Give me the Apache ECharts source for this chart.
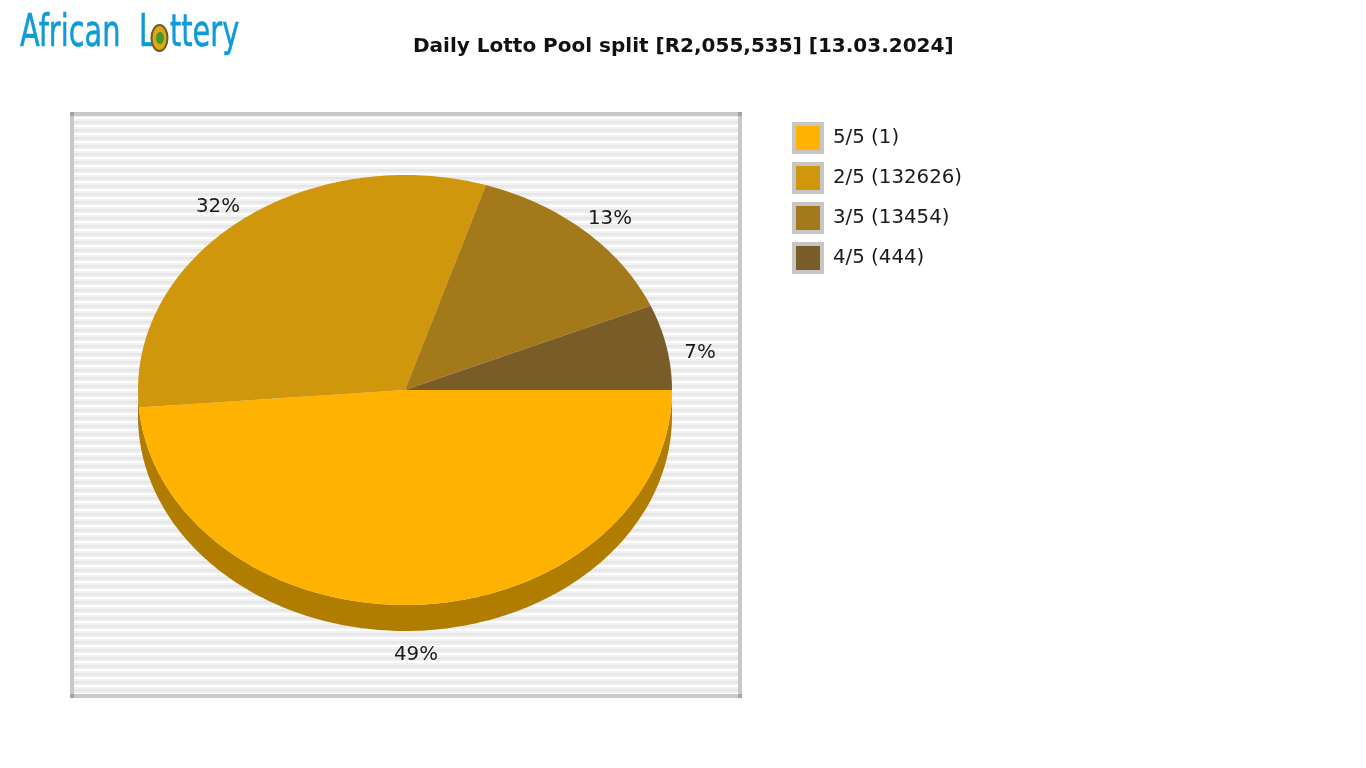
<!DOCTYPE html>
<html>
<head>
<meta charset="utf-8">
<style>html,body{margin:0;padding:0;background:#fff}#c{width:1366px;height:768px}</style>
<script src="https://cdn.jsdelivr.net/npm/echarts@6/dist/echarts.min.js"></script>
</head>
<body>
<div id="c"></div>
<script>
// Data
var categories = ["5/5 (1)", "2/5 (132626)", "3/5 (13454)", "4/5 (444)"];
var arcShares = [48.7, 31.2, 13.7, 6.4];       // share of the ellipse as drawn
var percentLabels = ["49%", "32%", "13%", "7%"];
var chartTitle = "Daily Lotto Pool split [R2,055,535] [13.03.2024]";

// Styles and layout
var faceColors = ["#ffb300", "#d0960c", "#a3791a", "#7a5c28"];
var rimColors = ["#b17d00", "#91690a", "#72540f", "#553f1a"];
var RIM = 26 / 215;
var labelPlaces = [[11 / 267, 265 / 215], [-187 / 267, -183 / 215], [205 / 267, -171 / 215], [295 / 267, -37 / 215]];
var FONT = '"DejaVu Sans"';

function stripePattern() {
  var cv = document.createElement('canvas');
  cv.width = 8; cv.height = 8;
  var g = cv.getContext('2d');
  var rows = ['#f2f2f2', '#e6e6e6', '#e6e6e6', '#eeeeee', '#eeeeee', '#ffffff', '#ffffff', '#f2f2f2'];
  rows.forEach(function (c, i) { g.fillStyle = c; g.fillRect(0, i, 8, 1); });
  return cv;
}

function arcPoints(api, from, to, dy) {
  var pts = [];
  var n = Math.max(2, Math.ceil(to - from));
  for (var i = 0; i <= n; i++) {
    var t = (from + (to - from) * i / n) * Math.PI / 180;
    pts.push(api.coord([Math.cos(t), Math.sin(t) + dy]));
  }
  return pts;
}

var total = arcShares.reduce(function (a, b) { return a + b; }, 0);
var running = 0;
var series = categories.map(function (name, idx) {
  var start = running / total * 360;
  running += arcShares[idx];
  var end = running / total * 360;
  return {
    name: name,
    type: 'custom',
    coordinateSystem: 'cartesian2d',
    silent: true,
    clip: false,
    animation: false,
    itemStyle: { color: faceColors[idx] },
    data: [[start, end, arcShares[idx]]],
    renderItem: function (params, api) {
      var a = api.value(0), b = api.value(1);
      var children = [];
      var ra = Math.max(a, 0), rb = Math.min(b, 180);
      if (rb > ra) {
        var top = arcPoints(api, ra, rb, 0);
        var bottom = arcPoints(api, ra, rb, RIM).reverse();
        children.push({ type: 'polygon', shape: { points: top.concat(bottom) }, style: { fill: rimColors[idx] } });
      }
      var c = api.coord([0, 0]);
      children.push({ type: 'polygon', shape: { points: [c].concat(arcPoints(api, a, b, 0)) }, style: { fill: faceColors[idx] } });
      var p = api.coord(labelPlaces[idx]);
      children.push({
        type: 'text', z2: 50,
        style: { x: p[0], y: p[1], text: percentLabels[idx], fill: '#1a1a1a', font: '19.8px ' + FONT, textAlign: 'center', textVerticalAlign: 'middle' }
      });
      return { type: 'group', children: children };
    }
  };
});

var frame = { l: 70, t: 112, r: 742, b: 698, w: 4 };
var logoFont = '44px ' + FONT;
var logoInk = '#0f9ad8';
function logoText(text, x) {
  return { type: 'text', silent: true, x: x, y: 13, scaleX: 0.655, style: { text: text, font: logoFont, fill: logoInk, stroke: logoInk, lineWidth: 0.6 } };
}
var graphics = [
  { type: 'rect', z: -10, silent: true, shape: { x: frame.l, y: frame.t, width: frame.r - frame.l, height: frame.b - frame.t }, style: { fill: { image: stripePattern(), repeat: 'repeat' } } },
  { type: 'rect', z: -9, silent: true, shape: { x: frame.l + 2, y: frame.t + 2, width: frame.r - frame.l - 4, height: frame.b - frame.t - 4 }, style: { fill: 'none', stroke: '#c8c8c8', lineWidth: 4 } },
  logoText('African', 20),
  logoText('L', 139),
  { type: 'ellipse', silent: true, shape: { cx: 159.5, cy: 38, rx: 8, ry: 13 }, style: { fill: '#e0a810', stroke: '#6a5a30', lineWidth: 2 } },
  { type: 'ellipse', silent: true, shape: { cx: 160, cy: 38, rx: 4, ry: 6 }, style: { fill: '#3f9a30' } },
  logoText('ttery', 170)
];
[[frame.l, frame.t], [frame.r - 4, frame.t], [frame.l, frame.b - 4], [frame.r - 4, frame.b - 4]].forEach(function (p) {
  graphics.push({ type: 'rect', z: -8, silent: true, shape: { x: p[0], y: p[1], width: 4, height: 4 }, style: { fill: '#a4a4a4' } });
});

var chart = echarts.init(document.getElementById('c'), null, { renderer: 'canvas', devicePixelRatio: 1 });
chart.setOption({
  animation: false,
  backgroundColor: '#ffffff',
  title: {
    text: chartTitle,
    left: 413, top: 37, padding: 0,
    textStyle: { fontFamily: FONT, fontWeight: 'bold', fontSize: 20, color: '#111111' }
  },
  legend: {
    data: categories,
    orient: 'vertical',
    left: 792, top: 122, padding: 0,
    itemWidth: 28, itemHeight: 28, itemGap: 8,
    icon: 'rect',
    selectedMode: false,
    itemStyle: { borderColor: '#c6c6c6', borderWidth: 4 },
    textStyle: { fontFamily: FONT, fontSize: 19.8, color: '#1a1a1a', padding: [2, 0, 0, 6] }
  },
  grid: { left: 138, top: 175, width: 534, height: 430, containLabel: false },
  xAxis: { type: 'value', min: -1, max: 1, show: false },
  yAxis: { type: 'value', min: -1, max: 1, inverse: true, show: false },
  graphic: graphics,
  series: series
});
</script>
</body>
</html>
